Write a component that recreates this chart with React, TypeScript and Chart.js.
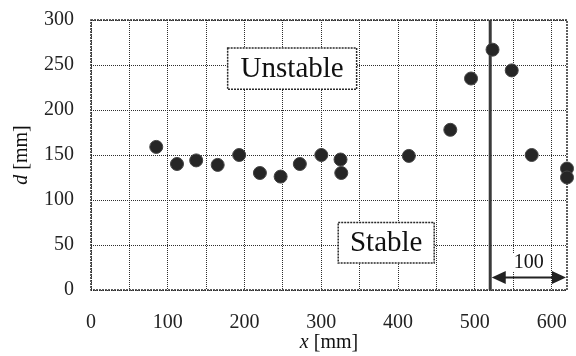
import React, { useEffect, useRef } from 'react';
import { Chart, registerables } from 'chart.js';

Chart.register(...registerables);

// ---- data ----
const xValues = [85, 112, 137, 165, 193, 220, 247, 272, 300, 325, 326, 414, 468, 495, 523, 548, 574, 620, 620];
const dValues = [159, 140, 144, 139, 150, 130, 126, 140, 150, 145, 130, 149, 178, 235, 267, 244, 150, 135, 125];
const xTicks = [0, 50, 100, 150, 200, 250, 300, 350, 400, 450, 500, 550, 600];
const xLabeled = [0, 100, 200, 300, 400, 500, 600];
const yTicks = [0, 50, 100, 150, 200, 250, 300];
const regionLabels = ['Unstable', 'Stable'];
const regionBoxX0 = [178, 322];
const regionBoxX1 = [346, 447];
const regionBoxY0 = [223, 30];
const regionBoxY1 = [269, 75];
const boundaryX = 520;
const spanLength = 100;
const spanLabel = '100';
const spanArrowY = 14;
const spanLabelY = 31;
const xTitleMain = 'x';
const yTitleMain = 'd';
const titleUnit = ' [mm]';

const FONT = "'Liberation Serif', 'Times New Roman', serif";
const INK = '#222';

const zeroPad = (s: any) => {
  s.paddingLeft = 0;
  s.paddingRight = 0;
  s.paddingTop = 0;
  s.paddingBottom = 0;
};

const overlay = {
  id: 'overlay',
  beforeDatasetsDraw(chart: any) {
    const { ctx, chartArea: a, scales } = chart;
    const x = scales.x;
    const y = scales.y;
    ctx.save();
    // frame
    ctx.strokeStyle = '#2a2a2a';
    ctx.lineWidth = 1.5;
    ctx.setLineDash([2, 1]);
    ctx.strokeRect(a.left, a.top, a.right - a.left, a.bottom - a.top);
    // region boxes
    regionLabels.forEach((lab, i) => {
      const l = x.getPixelForValue(regionBoxX0[i]);
      const r = x.getPixelForValue(regionBoxX1[i]);
      const t = y.getPixelForValue(regionBoxY1[i]);
      const b = y.getPixelForValue(regionBoxY0[i]);
      ctx.setLineDash([]);
      ctx.fillStyle = '#fff';
      ctx.fillRect(l, t, r - l, b - t);
      ctx.setLineDash([2, 1]);
      ctx.lineWidth = 1.5;
      ctx.strokeStyle = '#2a2a2a';
      ctx.strokeRect(l, t, r - l, b - t);
      ctx.setLineDash([]);
      ctx.fillStyle = '#111';
      ctx.font = `29px ${FONT}`;
      ctx.textAlign = 'center';
      ctx.textBaseline = 'middle';
      ctx.fillText(lab, (l + r) / 2, (t + b) / 2 + 1);
    });
    // boundary line
    const bx = x.getPixelForValue(boundaryX);
    ctx.setLineDash([]);
    ctx.strokeStyle = '#3a3a3a';
    ctx.lineWidth = 3;
    ctx.beginPath();
    ctx.moveTo(bx, a.top);
    ctx.lineTo(bx, a.bottom);
    ctx.stroke();
    // span arrow
    const ex = x.getPixelForValue(boundaryX + spanLength);
    const ay = y.getPixelForValue(spanArrowY);
    const x0 = bx + 1.5;
    const x1 = Math.min(ex, a.right) - 1;
    ctx.strokeStyle = '#222';
    ctx.fillStyle = '#222';
    ctx.lineWidth = 2;
    ctx.beginPath();
    ctx.moveTo(x0 + 10, ay);
    ctx.lineTo(x1 - 10, ay);
    ctx.stroke();
    ctx.beginPath();
    ctx.moveTo(x0, ay);
    ctx.lineTo(x0 + 14, ay - 6.5);
    ctx.lineTo(x0 + 14, ay + 6.5);
    ctx.closePath();
    ctx.fill();
    ctx.beginPath();
    ctx.moveTo(x1, ay);
    ctx.lineTo(x1 - 14, ay - 6.5);
    ctx.lineTo(x1 - 14, ay + 6.5);
    ctx.closePath();
    ctx.fill();
    // span label
    const lx = (x0 + x1) / 2;
    const ly = y.getPixelForValue(spanLabelY);
    ctx.font = `20px ${FONT}`;
    const w = ctx.measureText(spanLabel).width;
    ctx.fillStyle = '#fff';
    ctx.fillRect(lx - w / 2 - 2, ly - 9, w + 4, 18);
    ctx.fillStyle = '#111';
    ctx.textAlign = 'center';
    ctx.textBaseline = 'middle';
    ctx.fillText(spanLabel, lx, ly + 1);
    ctx.restore();
  },
  afterDraw(chart: any) {
    const { ctx, chartArea: a } = chart;
    ctx.save();
    ctx.fillStyle = '#111';
    ctx.textBaseline = 'middle';
    ctx.textAlign = 'left';
    const drawMixed = (cx: number, cy: number, rot: number, main: string) => {
      ctx.save();
      ctx.translate(cx, cy);
      ctx.rotate(rot);
      ctx.font = `italic 20px ${FONT}`;
      const w1 = ctx.measureText(main).width;
      ctx.font = `20px ${FONT}`;
      const w2 = ctx.measureText(titleUnit).width;
      const start = -(w1 + w2) / 2;
      ctx.font = `italic 20px ${FONT}`;
      ctx.fillText(main, start, 0);
      ctx.font = `20px ${FONT}`;
      ctx.fillText(titleUnit, start + w1, 0);
      ctx.restore();
    };
    drawMixed((a.left + a.right) / 2, 343, 0, xTitleMain);
    drawMixed(22, (a.top + a.bottom) / 2, -Math.PI / 2, yTitleMain);
    ctx.restore();
  },
};

export default function App() {
  const ref = useRef<HTMLCanvasElement | null>(null);
  useEffect(() => {
    if (!ref.current) return;
    const chart = new Chart(ref.current, {
      type: 'scatter',
      data: {
        datasets: [
          {
            data: xValues.map((v, i) => ({ x: v, y: dValues[i] })),
            pointRadius: 6.5,
            pointHoverRadius: 6.5,
            backgroundColor: '#262626',
            borderColor: '#444',
            borderWidth: 1,
            clip: false as any,
          },
        ],
      },
      options: {
        responsive: false,
        animation: false,
        events: [],
        layout: { padding: { left: 0, top: 20, right: 9, bottom: 0 } },
        plugins: { legend: { display: false }, tooltip: { enabled: false } },
        scales: {
          x: {
            type: 'linear',
            min: 0,
            max: 620,
            afterBuildTicks: (s: any) => {
              s.ticks = xTicks.map((v) => ({ value: v }));
            },
            afterFit: (s: any) => {
              s.height = 66;
              zeroPad(s);
            },
            grid: { color: '#2e2e2e', lineWidth: 1, drawTicks: false },
            border: { display: false, dash: [1, 1] },
            ticks: {
              autoSkip: false,
              maxRotation: 0,
              padding: 21,
              color: INK,
              font: { family: FONT, size: 20 },
              callback: (v: any) => (xLabeled.includes(Number(v)) ? String(v) : ''),
            },
          },
          y: {
            type: 'linear',
            min: 0,
            max: 300,
            afterBuildTicks: (s: any) => {
              s.ticks = yTicks.map((v) => ({ value: v }));
            },
            afterFit: (s: any) => {
              s.width = 91;
              zeroPad(s);
            },
            grid: { color: '#2e2e2e', lineWidth: 1, drawTicks: false },
            border: { display: false, dash: [1, 1] },
            ticks: {
              autoSkip: false,
              padding: 17,
              color: INK,
              font: { family: FONT, size: 20 },
            },
          },
        },
      },
      plugins: [overlay],
    });
    return () => chart.destroy();
  }, []);
  return (
    <div style={{ position: 'absolute', left: 0, top: 0, width: 576, height: 356, background: '#fff' }}>
      <canvas ref={ref} width={576} height={356} />
    </div>
  );
}
